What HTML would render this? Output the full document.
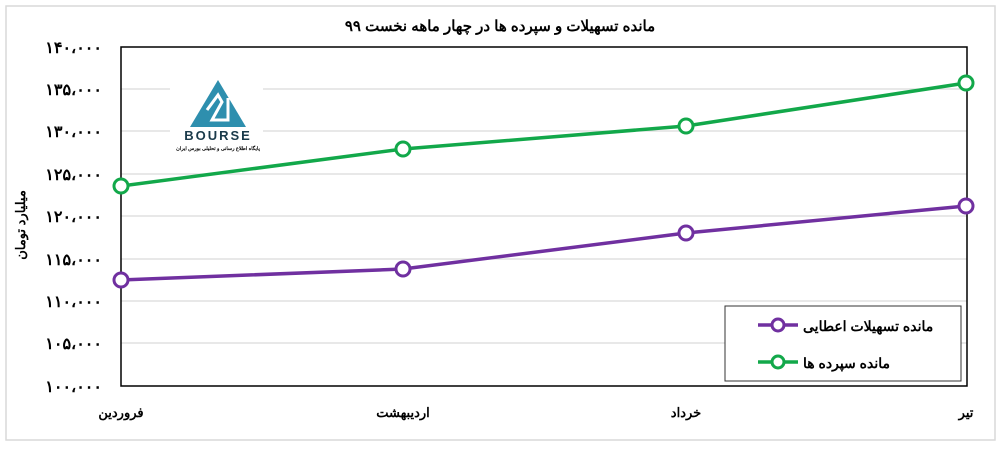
<!DOCTYPE html>
<html><head><meta charset="utf-8"><style>
body{margin:0;background:#fff;}
text{font-family:"Liberation Sans","Noto Sans CJK SC",sans-serif;font-weight:bold;fill:#000;}
</style></head><body>
<svg width="1000" height="447" viewBox="0 0 1000 447" xmlns="http://www.w3.org/2000/svg">
<rect x="6" y="6" width="989" height="434" fill="#fff" stroke="#d9d9d9" stroke-width="1.5"/>
<text x="500" y="31" font-size="15" text-anchor="middle" direction="rtl">مانده تسهیلات و سپرده ها در چهار ماهه نخست ۹۹</text>
<g stroke="#d9d9d9" stroke-width="1.2">
<line x1="121" y1="89" x2="967" y2="89"/><line x1="121" y1="131" x2="967" y2="131"/>
<line x1="121" y1="174" x2="967" y2="174"/><line x1="121" y1="216" x2="967" y2="216"/>
<line x1="121" y1="259" x2="967" y2="259"/><line x1="121" y1="301" x2="967" y2="301"/>
<line x1="121" y1="343" x2="967" y2="343"/>
</g>
<rect x="170" y="66" width="93" height="90" fill="#fff"/>
<polygon points="218,80 190,127 246,127" fill="#2e8fae"/>
<path d="M207,110 L218,95 L222,102 L212,120 L228,120 L228,98" fill="none" stroke="#fff" stroke-width="3"/>
<text x="218" y="140" font-size="13" text-anchor="middle" style="fill:#1a3a4a;letter-spacing:2px">BOURSE</text>
<text x="218" y="150" font-size="5" text-anchor="middle">پایگاه اطلاع رسانی و تحلیلی بورس ایران</text>
<rect x="121" y="47" width="846" height="339" fill="none" stroke="#000" stroke-width="1.5"/>
<g font-size="16" text-anchor="end">
<text x="102" y="53">۱۴۰،۰۰۰</text><text x="102" y="95">۱۳۵،۰۰۰</text><text x="102" y="137">۱۳۰،۰۰۰</text>
<text x="102" y="180">۱۲۵،۰۰۰</text><text x="102" y="222">۱۲۰،۰۰۰</text><text x="102" y="265">۱۱۵،۰۰۰</text>
<text x="102" y="307">۱۱۰،۰۰۰</text><text x="102" y="349">۱۰۵،۰۰۰</text><text x="102" y="392">۱۰۰،۰۰۰</text>
</g>
<text transform="translate(25,225) rotate(-90)" font-size="13" text-anchor="middle">میلیارد تومان</text>
<g font-size="13" text-anchor="middle">
<text x="121" y="417">فروردین</text><text x="403" y="417">اردیبهشت</text>
<text x="686" y="417">خرداد</text><text x="966" y="417">تیر</text>
</g>
<polyline points="121,186 403,149 686,126 966,83" fill="none" stroke="#12a84a" stroke-width="3.5"/>
<polyline points="121,280 403,269 686,233 966,206" fill="none" stroke="#7030a0" stroke-width="3.5"/>
<g fill="#fff" stroke-width="3">
<g stroke="#12a84a"><circle cx="121" cy="186" r="7"/><circle cx="403" cy="149" r="7"/><circle cx="686" cy="126" r="7"/><circle cx="966" cy="83" r="7"/></g>
<g stroke="#7030a0"><circle cx="121" cy="280" r="7"/><circle cx="403" cy="269" r="7"/><circle cx="686" cy="233" r="7"/><circle cx="966" cy="206" r="7"/></g>
</g>
<rect x="725" y="306" width="236" height="75" fill="#fff" stroke="#333" stroke-width="1"/>
<line x1="758" y1="325" x2="798" y2="325" stroke="#7030a0" stroke-width="3.5"/>
<circle cx="778" cy="325" r="6" fill="#fff" stroke="#7030a0" stroke-width="3"/>
<line x1="758" y1="362" x2="798" y2="362" stroke="#12a84a" stroke-width="3.5"/>
<circle cx="778" cy="362" r="6" fill="#fff" stroke="#12a84a" stroke-width="3"/>
<text x="803" y="331" font-size="14">مانده تسهیلات اعطایی</text>
<text x="803" y="368" font-size="14">مانده سپرده ها</text>
</svg>
</body></html>
